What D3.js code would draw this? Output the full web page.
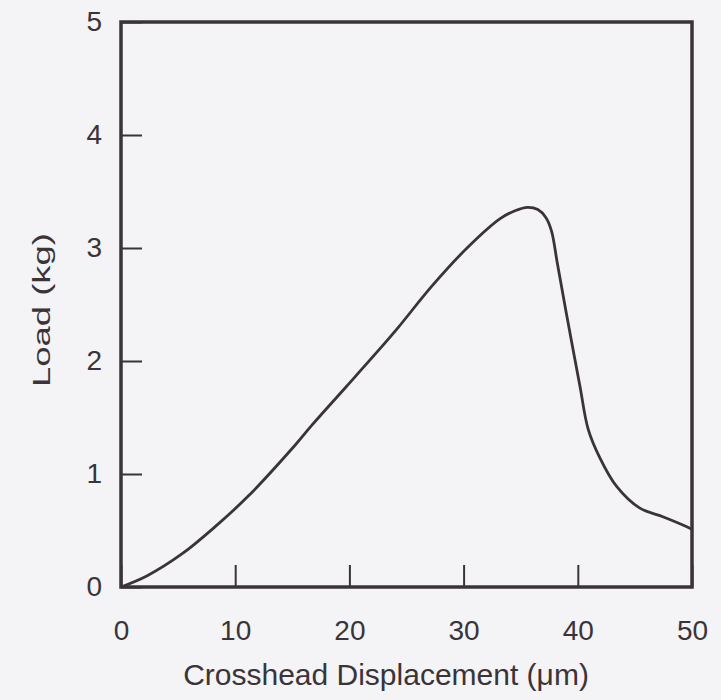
<!DOCTYPE html>
<html>
<head>
<meta charset="utf-8">
<script src="https://cdn.jsdelivr.net/npm/d3@7/dist/d3.min.js"></script>
<style>
  html, body { margin: 0; padding: 0; background: #f4f3f5; }
  svg { display: block; }
  text { font-family: "Liberation Sans", Arial, Helvetica, sans-serif; fill: #3a3439; }
</style>
</head>
<body>
<svg id="chart" width="721" height="700"></svg>
<script>
// Data
const displacement = [0, 2.3, 5.3, 8.2, 11.1, 15.2, 16.7, 19.7, 22.6, 24.3, 27.2, 30.3, 33.2, 34.5, 35.6, 36.5, 37.2, 37.7, 38.2, 39.0, 40.2, 40.9, 41.9, 43.4, 45.4, 47.5, 49.4, 50];
const load =         [0, 0.10, 0.29, 0.53, 0.80, 1.25, 1.43, 1.77, 2.10, 2.30, 2.66, 3.00, 3.26, 3.33, 3.36, 3.34, 3.27, 3.15, 2.87, 2.42, 1.77, 1.40, 1.15, 0.89, 0.70, 0.62, 0.54, 0.51];
const xTicks = [0, 10, 20, 30, 40, 50];
const yTicks = [0, 1, 2, 3, 4, 5];
const xTitle = "Crosshead Displacement (\u03bcm)";
const yTitle = "Load (kg)";

const ink = "#3a3439";
const svg = d3.select("#chart");
const mLeft = 121, mRight = 692, mTop = 22, mBottom = 587;

const x = d3.scaleLinear().domain([0, 50]).range([mLeft, mRight]);
const y = d3.scaleLinear().domain([0, 5]).range([mBottom, mTop]);

// Axes with inward ticks
const xAxis = svg.append("g").attr("transform", `translate(0,${mBottom})`)
  .call(d3.axisBottom(x).tickValues(xTicks).tickFormat(d3.format("d")).tickSizeInner(-22).tickSizeOuter(0).tickPadding(33));
const yAxis = svg.append("g").attr("transform", `translate(${mLeft},0)`)
  .call(d3.axisLeft(y).tickValues(yTicks).tickFormat(d3.format("d")).tickSizeInner(-21).tickSizeOuter(0).tickPadding(19));

[xAxis, yAxis].forEach(g => {
  g.select(".domain").remove();
  g.selectAll(".tick line").attr("stroke", ink).attr("stroke-width", 2);
  g.selectAll(".tick text").attr("font-size", 28).style("fill", ink)
    .attr("font-family", "'Liberation Sans', Arial, sans-serif");
});

// Frame
svg.append("rect")
  .attr("x", mLeft).attr("y", mTop)
  .attr("width", mRight - mLeft).attr("height", mBottom - mTop)
  .attr("fill", "none").attr("stroke", ink).attr("stroke-width", 3.5);

// Curve
const pts = displacement.map((d, i) => [d, load[i]]);
svg.append("path")
  .datum(pts)
  .attr("fill", "none")
  .attr("stroke", ink)
  .attr("stroke-width", 2.8)
  .attr("stroke-linejoin", "round")
  .attr("d", d3.line().x(d => x(d[0])).y(d => y(d[1])).curve(d3.curveCatmullRom.alpha(0.5)));

// Titles
svg.append("text")
  .attr("x", 386).attr("y", 685)
  .attr("text-anchor", "middle")
  .attr("font-size", 30)
  .text(xTitle);

svg.append("text")
  .attr("transform", "translate(50,310) rotate(-90)")
  .attr("text-anchor", "middle")
  .attr("font-size", 23.5)
  .attr("textLength", 154)
  .attr("lengthAdjust", "spacingAndGlyphs")
  .text(yTitle);
</script>
</body>
</html>
